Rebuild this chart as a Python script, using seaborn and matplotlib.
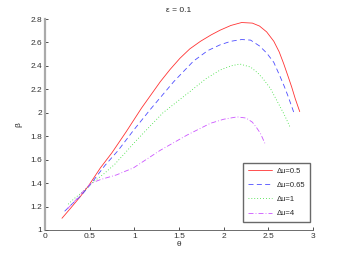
import matplotlib
matplotlib.use("Agg")
import matplotlib.pyplot as plt
import seaborn as sns
import pandas as pd

# Data
theta_05 = [0.19, 0.28, 0.39, 0.49, 0.62, 0.75, 0.91, 1.08, 1.29, 1.40, 1.51, 1.62, 1.74, 1.86, 1.96, 2.08, 2.20, 2.32, 2.40, 2.48, 2.56, 2.62, 2.67, 2.72, 2.76, 2.80, 2.85]
beta_05 = [1.10, 1.18, 1.28, 1.38, 1.53, 1.66, 1.84, 2.04, 2.265, 2.37, 2.465, 2.545, 2.61, 2.665, 2.705, 2.745, 2.77, 2.765, 2.74, 2.69, 2.61, 2.52, 2.42, 2.31, 2.22, 2.12, 2.01]

theta_065 = [0.22, 0.30, 0.40, 0.50, 0.67, 0.82, 0.99, 1.18, 1.44, 1.66, 1.82, 1.96, 2.08, 2.20, 2.30, 2.40, 2.48, 2.56, 2.63, 2.68, 2.72, 2.79]
beta_065 = [1.16, 1.22, 1.29, 1.38, 1.55, 1.68, 1.85, 2.03, 2.265, 2.44, 2.53, 2.58, 2.61, 2.625, 2.62, 2.57, 2.51, 2.43, 2.31, 2.22, 2.14, 1.99]

theta_1 = [0.26, 0.33, 0.43, 0.54, 0.66, 0.78, 1.03, 1.32, 1.62, 1.80, 1.96, 2.08, 2.18, 2.30, 2.38, 2.44, 2.52, 2.59, 2.68, 2.74]
beta_1 = [1.22, 1.27, 1.33, 1.41, 1.48, 1.56, 1.77, 2.00, 2.18, 2.29, 2.365, 2.40, 2.416, 2.39, 2.34, 2.29, 2.21, 2.11, 1.98, 1.88]

theta_4 = [0.25, 0.35, 0.45, 0.52, 0.62, 0.80, 0.99, 1.29, 1.59, 1.85, 2.00, 2.15, 2.25, 2.32, 2.37, 2.41, 2.46]
beta_4 = [1.18, 1.26, 1.35, 1.40, 1.43, 1.47, 1.53, 1.68, 1.81, 1.91, 1.945, 1.965, 1.955, 1.92, 1.87, 1.825, 1.74]

labels = ["\u0394u=0.5", "\u0394u=0.65", "\u0394u=1", "\u0394u=4"]
x_ticks = [0, 0.5, 1, 1.5, 2, 2.5, 3]
x_tick_labels = ["0", "0.5", "1", "1.5", "2", "2.5", "3"]
y_ticks = [1, 1.2, 1.4, 1.6, 1.8, 2, 2.2, 2.4, 2.6, 2.8]
y_tick_labels = ["1", "1.2", "1.4", "1.6", "1.8", "2", "2.2", "2.4", "2.6", "2.8"]

series = [
    (theta_05, beta_05, labels[0], "#ff3333", "-"),
    (theta_065, beta_065, labels[1], "#4d4dff", (0, (6, 4))),
    (theta_1, beta_1, labels[2], "#33dd33", (0, (1, 2.5))),
    (theta_4, beta_4, labels[3], "#cc55ff", (0, (6, 2.5, 1, 2.5))),
]

sns.set_style("white")
plt.rcParams["font.family"] = ["Liberation Sans", "DejaVu Sans"]

fig = plt.figure(figsize=(3.46, 2.60), dpi=100)
ax = fig.add_axes([0.130, 0.1154, 0.775, 0.8115])

for th, be, lab, col, ls in series:
    df = pd.DataFrame({"theta": th, "beta": be})
    sns.lineplot(data=df, x="theta", y="beta", sort=False, ax=ax, color=col,
                 linestyle=ls, linewidth=0.6, label=lab, estimator=None)

ax.set_xlim(0, 3)
ax.set_ylim(1, 2.8)
ax.set_xticks(x_ticks)
ax.set_xticklabels(x_tick_labels)
ax.set_yticks(y_ticks)
ax.set_yticklabels(y_tick_labels)
ax.tick_params(axis="both", direction="in", length=2.5, width=0.6, labelsize=6,
               colors="#333333", pad=2, bottom=True, left=True)
ax.set_xlabel("\u03b8", fontsize=6, labelpad=1)
ax.set_ylabel("\u03b2", fontsize=6, labelpad=6)
ax.set_title("\u03b5 = 0.1", fontsize=6, pad=5)

for s in ["top", "right"]:
    ax.spines[s].set_visible(False)
ax.spines["left"].set_color("#aaaaaa")
ax.spines["left"].set_linewidth(1.6)
ax.spines["bottom"].set_color("#555555")
ax.spines["bottom"].set_linewidth(0.6)

leg = ax.legend(loc="lower right", bbox_to_anchor=(0.989, 0.038), borderaxespad=0,
                fontsize=5.5, frameon=True, fancybox=False, handlelength=3.2,
                labelspacing=0.9, borderpad=0.6, handletextpad=0.6)
leg.get_frame().set_edgecolor("#444444")
leg.get_frame().set_linewidth(1.0)

fig.savefig("out.png", dpi=100)
